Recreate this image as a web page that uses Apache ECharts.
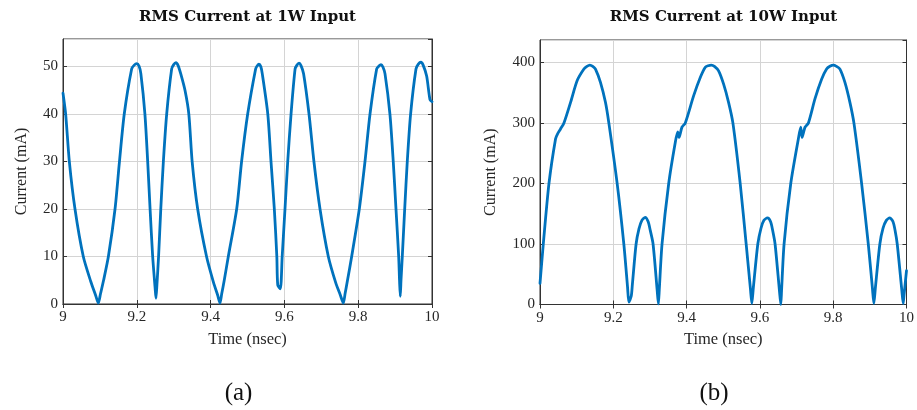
<!DOCTYPE html>
<html>
<head>
<meta charset="utf-8">
<script src="https://cdn.jsdelivr.net/npm/echarts@6/dist/echarts.min.js"></script>
<style>
html,body{margin:0;padding:0;background:#fff;}
#chart{width:917px;height:410px;}
</style>
</head>
<body>
<div id="chart"></div>
<script>
// ---- data ----
var titles = ['RMS Current at 1W Input', 'RMS Current at 10W Input'];
var captions = ['(a)', '(b)'];
var xName = 'Time (nsec)';
var yName = 'Current (mA)';
var xTicks = [9, 9.2, 9.4, 9.6, 9.8, 10];
var yTicks1 = [0, 10, 20, 30, 40, 50];
var yTicks2 = [0, 100, 200, 300, 400];

var time1 = [9.000, 9.0072, 9.0172, 9.0325, 9.055, 9.075, 9.089, 9.0957, 9.1015, 9.110, 9.123, 9.141, 9.153, 9.166, 9.186, 9.193, 9.1997, 9.206, 9.211, 9.222, 9.2295, 9.236, 9.243, 9.2495, 9.252, 9.2545,
  9.259, 9.265, 9.272, 9.281, 9.2945, 9.300, 9.306, 9.312, 9.319, 9.3306, 9.341, 9.350, 9.365, 9.389, 9.408, 9.419, 9.4255, 9.430,
  9.437, 9.448, 9.4707, 9.484, 9.5005, 9.522, 9.526, 9.531, 9.536, 9.540, 9.555, 9.5637, 9.5727, 9.5795, 9.582, 9.589,
  9.594, 9.6016, 9.609, 9.618, 9.629, 9.634, 9.6396, 9.645, 9.652, 9.6667, 9.680, 9.6965, 9.719, 9.739, 9.752, 9.7597, 9.7645,
  9.771, 9.7823, 9.803, 9.8184, 9.832, 9.850, 9.856, 9.8618, 9.867, 9.8726, 9.886, 9.895, 9.9024, 9.9097, 9.912, 9.914, 9.916,
  9.9195, 9.926, 9.933, 9.942, 9.9566, 9.963, 9.970, 9.976, 9.9855, 9.9946, 10.000];
var current1 = [44.4, 40, 30, 20, 10, 4.8, 1.7, 0.2, 2.1, 5, 10, 20, 30, 40, 49.5, 50.3, 50.6, 50.1, 48.5, 40, 30, 20, 10, 3.5, 1.2, 4,
  10, 20, 30, 40, 49.5, 50.4, 50.8, 50.2, 48.5, 45, 40, 30, 20, 10, 4.5, 1.9, 0.2, 2.1,
  5, 10, 20, 30, 40, 49.5, 50.1, 50.5, 50, 48.5, 40, 30, 20, 10, 4, 3.2,
  10, 20, 30, 40, 49.5, 50.3, 50.7, 50.2, 48.5, 40, 30, 20, 10, 4.5, 1.8, 0.2, 2.2,
  5, 10, 20, 30, 40, 49.5, 50.1, 50.4, 49.9, 48.5, 40, 30, 20, 10, 5, 1.6, 5,
  10, 20, 30, 40, 49.5, 50.5, 50.9, 50.3, 48, 43, 42.6];

var time2 = [9.000, 9.009, 9.0245, 9.0425, 9.048, 9.056, 9.0653, 9.0834, 9.1015, 9.1198, 9.128, 9.136, 9.144, 9.1514, 9.165, 9.1786, 9.1878, 9.2105, 9.2287, 9.239, 9.2425, 9.249, 9.252,
  9.2622, 9.270, 9.278, 9.287, 9.295, 9.301, 9.3085, 9.3195, 9.323, 9.3255,
  9.333, 9.3512, 9.3692, 9.3757, 9.3793, 9.3874, 9.3965, 9.4193, 9.4373, 9.451, 9.459, 9.4672, 9.476, 9.4873, 9.501, 9.5145, 9.5263, 9.5462, 9.5625, 9.574, 9.578, 9.582,
  9.5943, 9.603, 9.611, 9.6207, 9.629, 9.635, 9.6414, 9.653, 9.657, 9.659,
  9.666, 9.6842, 9.705, 9.7114, 9.715, 9.7232, 9.7324, 9.7504, 9.7686, 9.782, 9.791, 9.8004, 9.809, 9.8184, 9.832, 9.8456, 9.8565, 9.8775, 9.8957, 9.907, 9.911, 9.915,
  9.9273, 9.936, 9.945, 9.9545, 9.963, 9.969, 9.9747, 9.987, 9.991, 9.993, 10.000];
var current2 = [35, 100, 200, 274, 282, 290, 300, 334, 370, 389, 393.5, 395.6, 393.5, 389, 367, 334, 300, 200, 100, 28, 4, 14, 33,
  100, 125, 139, 144, 137, 122, 100, 25, 1, 25,
  100, 200, 268, 285, 276, 293, 300, 345, 375, 392, 394.5, 395.6, 393.5, 386, 364, 334, 300, 200, 100, 27, 1.6, 27,
  100, 126, 139, 143, 137, 122, 100, 25, 0, 22,
  100, 200, 274, 293, 276, 293, 300, 340, 372.5, 389, 393.5, 395.6, 393.5, 389, 367, 334, 300, 200, 100, 27, 1.6, 27,
  100, 126, 139, 143, 137, 122, 100, 25, 1.6, 14, 56];

// ---- chart ----
function zip(a, b) { return a.map(function (v, i) { return [v, b[i]]; }); }

var serif = '"Liberation Serif", "DejaVu Serif", serif';
var txt = '#262626';
var axisCol = '#333333';
var gridCol = '#d4d4d4';
var blue = '#0072BD';

var grids = [
  { left: 63, top: 39, width: 369, height: 265 },
  { left: 540, top: 40, width: 367, height: 264.5 }
];
var yMax = [55.8, 437];
var yInt = [10, 100];

var option = {
  animation: false,
  backgroundColor: '#ffffff',
  grid: grids.map(function (g) {
    return { left: g.left, top: g.top, width: g.width, height: g.height, show: true,
      borderColor: axisCol, borderWidth: 1, backgroundColor: 'transparent' };
  }),
  xAxis: [],
  yAxis: [],
  series: [],
  graphic: []
};

[0, 1].forEach(function (k) {
  option.xAxis.push({
    type: 'value', gridIndex: k, min: xTicks[0], max: xTicks[xTicks.length - 1], interval: 0.2,
    position: 'bottom',
    name: xName, nameLocation: 'middle', nameGap: 27,
    nameTextStyle: { fontFamily: serif, fontSize: 16.5, color: txt },
    axisLine: { show: true, lineStyle: { color: axisCol, width: 1 } },
    axisTick: { show: true, inside: true, length: 4, lineStyle: { color: axisCol } },
    axisLabel: { fontFamily: serif, fontSize: 15, color: txt, margin: 6,
      formatter: function (v) { return String(Math.round(v * 10) / 10); } },
    splitLine: { show: true, lineStyle: { color: gridCol, width: 1 } }
  });
  option.xAxis.push({
    type: 'value', gridIndex: k, min: xTicks[0], max: xTicks[xTicks.length - 1], interval: 0.2,
    position: 'top',
    axisLine: { show: true, lineStyle: { color: axisCol, width: 1 } },
    axisTick: { show: true, inside: true, length: 4, lineStyle: { color: axisCol } },
    axisLabel: { show: false }, splitLine: { show: false }
  });
  option.yAxis.push({
    type: 'value', gridIndex: k, min: 0, max: yMax[k], interval: yInt[k],
    position: 'left',
    name: yName, nameLocation: 'middle', nameGap: k === 0 ? 33 : 41, nameRotate: 90,
    nameTextStyle: { fontFamily: serif, fontSize: 16, color: txt },
    axisLine: { show: true, lineStyle: { color: axisCol, width: 1 } },
    axisTick: { show: true, inside: true, length: 4, lineStyle: { color: axisCol } },
    axisLabel: { fontFamily: serif, fontSize: 15, color: txt, margin: 5, showMaxLabel: false },
    splitLine: { show: true, lineStyle: { color: gridCol, width: 1 } }
  });
  option.yAxis.push({
    type: 'value', gridIndex: k, min: 0, max: yMax[k], interval: yInt[k],
    position: 'right',
    axisLine: { show: true, lineStyle: { color: axisCol, width: 1 } },
    axisTick: { show: true, inside: true, length: 4, lineStyle: { color: axisCol } },
    axisLabel: { show: false }, splitLine: { show: false }
  });
});

option.series.push({
  type: 'line', xAxisIndex: 0, yAxisIndex: 0, data: zip(time1, current1),
  showSymbol: false, symbol: 'none', smooth: 0.25, clip: true,
  lineStyle: { color: blue, width: 2.8, join: 'round', cap: 'round' }
});
option.series.push({
  type: 'line', xAxisIndex: 2, yAxisIndex: 2, data: zip(time2, current2),
  showSymbol: false, symbol: 'none', smooth: 0.25, clip: true,
  lineStyle: { color: blue, width: 2.8, join: 'round', cap: 'round' }
});

var titleCx = [247.5, 723.5];
var capCx = [238.5, 714];
[0, 1].forEach(function (k) {
  option.graphic.push({
    type: 'text', x: titleCx[k], y: 17, silent: true,
    style: { text: titles[k], align: 'center', verticalAlign: 'middle', fontFamily: '"DejaVu Serif", serif',
      fontWeight: 'bold', fontSize: 15, fill: '#111' }
  });
  option.graphic.push({
    type: 'text', x: capCx[k], y: 393, silent: true,
    style: { text: captions[k], align: 'center', verticalAlign: 'middle', fontFamily: serif,
      fontSize: 25, fill: '#111' }
  });
});

var chart = echarts.init(document.getElementById('chart'), null, { renderer: 'canvas' });
chart.setOption(option);
</script>
</body>
</html>
